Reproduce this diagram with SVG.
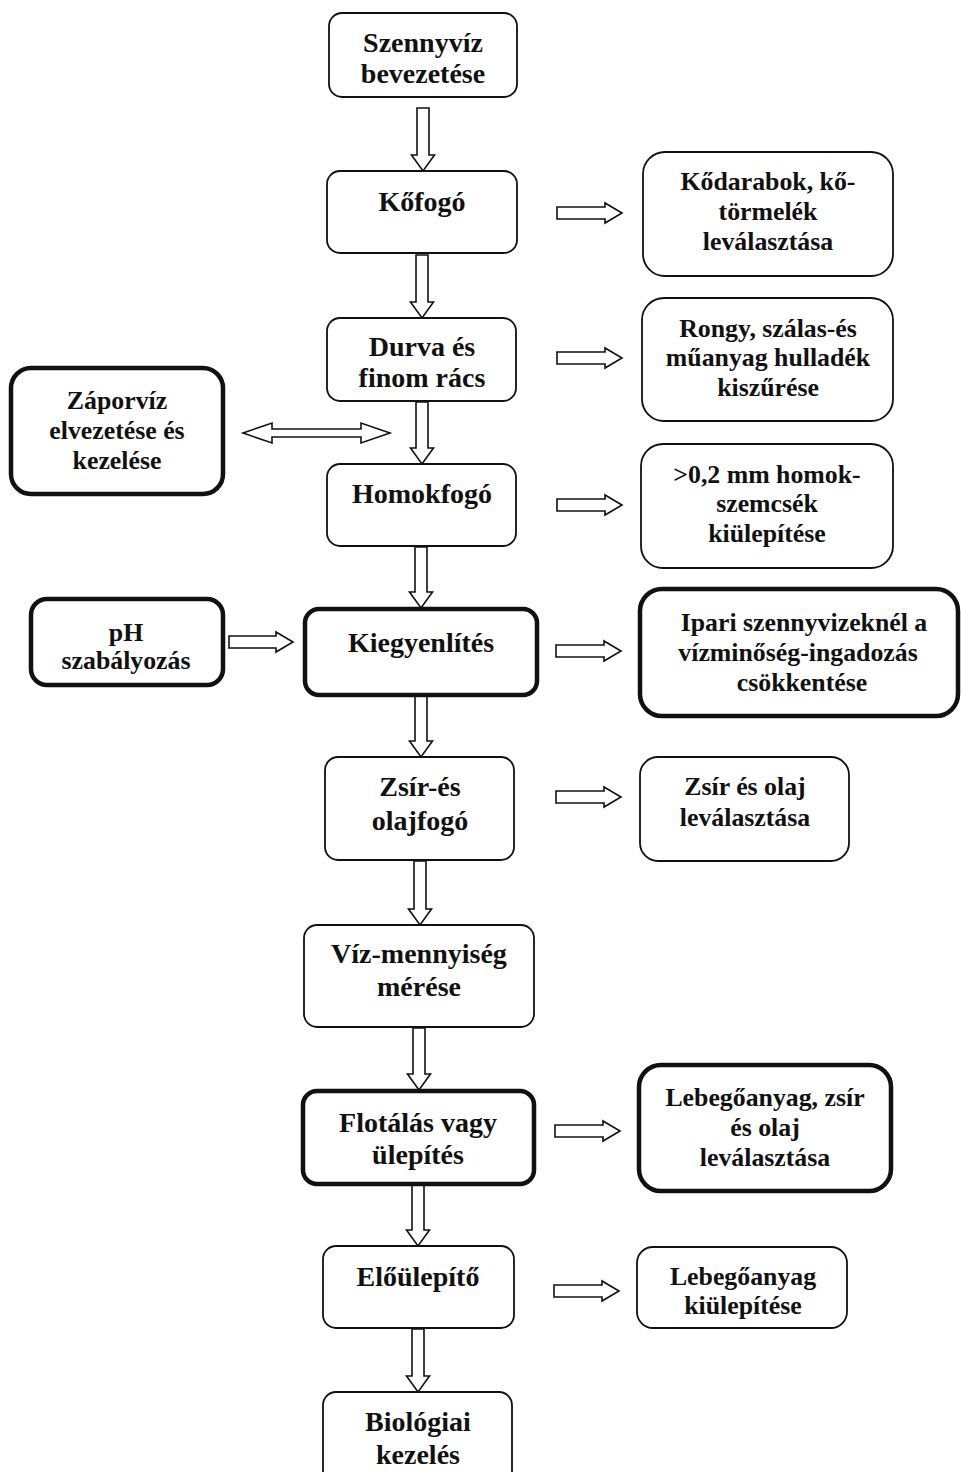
<svg xmlns="http://www.w3.org/2000/svg" width="961" height="1472" viewBox="0 0 961 1472">
<style>
.n rect{fill:#fff;stroke:#111;stroke-width:1.8}
.t rect{fill:#fff;stroke:#111;stroke-width:4.5}
text{font-family:"Liberation Serif","Times New Roman",serif;font-weight:bold;font-size:28px;fill:#111;text-anchor:middle}
.s text{font-size:25.8px}
#connectors path{fill:#fff;stroke:#111;stroke-width:1.6;stroke-linejoin:miter}
</style>
<rect width="961" height="1472" fill="#fff"/>
<g id="connectors">
<path d="M417 108H429V155H434.5L423 171L411.5 155H417Z"/>
<path d="M416 255H428V302H433.5L422 318L410.5 302H416Z"/>
<path d="M416 402H428V448H433.5L422 464L410.5 448H416Z"/>
<path d="M415 547H427V592H432.5L421 608L409.5 592H415Z"/>
<path d="M415 696H427V741H432.5L421 757L409.5 741H415Z"/>
<path d="M414 861H426V909H431.5L420 925L408.5 909H414Z"/>
<path d="M413 1028H425V1074H430.5L419 1090L407.5 1074H413Z"/>
<path d="M412 1185H424V1230H429.5L418 1246L406.5 1230H412Z"/>
<path d="M412 1329H424V1376H429.5L418 1392L406.5 1376H412Z"/>
<path d="M557 207H605V203L622 213L605 223V219H557Z"/>
<path d="M557 352H605V348L622 358L605 368V364H557Z"/>
<path d="M557 499H605V495L622 505L605 515V511H557Z"/>
<path d="M556 645H604V641L621 651L604 661V657H556Z"/>
<path d="M556 791H604V787L621 797L604 807V803H556Z"/>
<path d="M555 1125H603V1121L620 1131L603 1141V1137H555Z"/>
<path d="M554 1285H602V1281L619 1291L602 1301V1297H554Z"/>
<path d="M229 636H276V632L293 642L276 652V648H229Z"/>
<path d="M243 433L272 423V429H361V423L390 433L361 443V437H272V443Z"/>
</g>
<g id="n1" class="n"><rect x="329" y="13" width="188" height="84" rx="13"/><text x="423" y="52">Szennyvíz</text><text x="423" y="83">bevezetése</text></g>
<g id="n2" class="n"><rect x="327" y="171" width="190" height="82" rx="13"/><text x="422" y="211">Kőfogó</text></g>
<g id="n3" class="n"><rect x="327" y="318" width="189" height="83" rx="13"/><text x="422" y="356">Durva és</text><text x="422" y="387">finom rács</text></g>
<g id="n4" class="n"><rect x="327" y="464" width="189" height="82" rx="13"/><text x="422" y="503">Homokfogó</text></g>
<g id="n5" class="t"><rect x="305" y="609" width="232" height="86" rx="14"/><text x="421" y="652">Kiegyenlítés</text></g>
<g id="n6" class="n"><rect x="325" y="757" width="189" height="103" rx="13"/><text x="420" y="796">Zsír-és</text><text x="420" y="830">olajfogó</text></g>
<g id="n7" class="n"><rect x="304" y="925" width="230" height="102" rx="13"/><text x="419" y="963">Víz-mennyiség</text><text x="419" y="996">mérése</text></g>
<g id="n8" class="t"><rect x="303" y="1091" width="231" height="93" rx="14"/><text x="418" y="1132">Flotálás vagy</text><text x="418" y="1164">ülepítés</text></g>
<g id="n9" class="n"><rect x="323" y="1246" width="191" height="82" rx="13"/><text x="418" y="1286">Előülepítő</text></g>
<g id="n10" class="n"><rect x="323" y="1392" width="189" height="95" rx="13"/><text x="418" y="1431">Biológiai</text><text x="418" y="1464">kezelés</text></g>
<g id="r1" class="n s"><rect x="643" y="152" width="250" height="124" rx="22"/><text x="768" y="190">Kődarabok, kő-</text><text x="768" y="220">törmelék</text><text x="768" y="250">leválasztása</text></g>
<g id="r2" class="n s"><rect x="642" y="298" width="251" height="123" rx="22"/><text x="768" y="337">Rongy, szálas-és</text><text x="768" y="366">műanyag hulladék</text><text x="768" y="396">kiszűrése</text></g>
<g id="r3" class="n s"><rect x="641" y="444" width="252" height="124" rx="22"/><text x="767" y="483">&gt;0,2 mm homok-</text><text x="767" y="512">szemcsék</text><text x="767" y="542">kiülepítése</text></g>
<g id="r4" class="t s"><rect x="640" y="589" width="318" height="127" rx="22"/><text x="804" y="631">Ipari szennyvizeknél a</text><text x="798" y="661">vízminőség-ingadozás</text><text x="802" y="691">csökkentése</text></g>
<g id="r5" class="n s"><rect x="640" y="757" width="209" height="104" rx="18"/><text x="745" y="795">Zsír és olaj</text><text x="745" y="826">leválasztása</text></g>
<g id="r6" class="t s"><rect x="639" y="1065" width="252" height="126" rx="22"/><text x="765" y="1106">Lebegőanyag, zsír</text><text x="765" y="1136">és olaj</text><text x="765" y="1166">leválasztása</text></g>
<g id="r7" class="n s"><rect x="637" y="1247" width="210" height="81" rx="16"/><text x="743" y="1285">Lebegőanyag</text><text x="743" y="1314">kiülepítése</text></g>
<g id="l1" class="t s"><rect x="11" y="368" width="212" height="126" rx="20"/><text x="117" y="409">Záporvíz</text><text x="117" y="439">elvezetése és</text><text x="117" y="469">kezelése</text></g>
<g id="l2" class="t s"><rect x="31" y="599" width="192" height="86" rx="16"/><text x="126" y="641">pH</text><text x="126" y="669">szabályozás</text></g>
</svg>
